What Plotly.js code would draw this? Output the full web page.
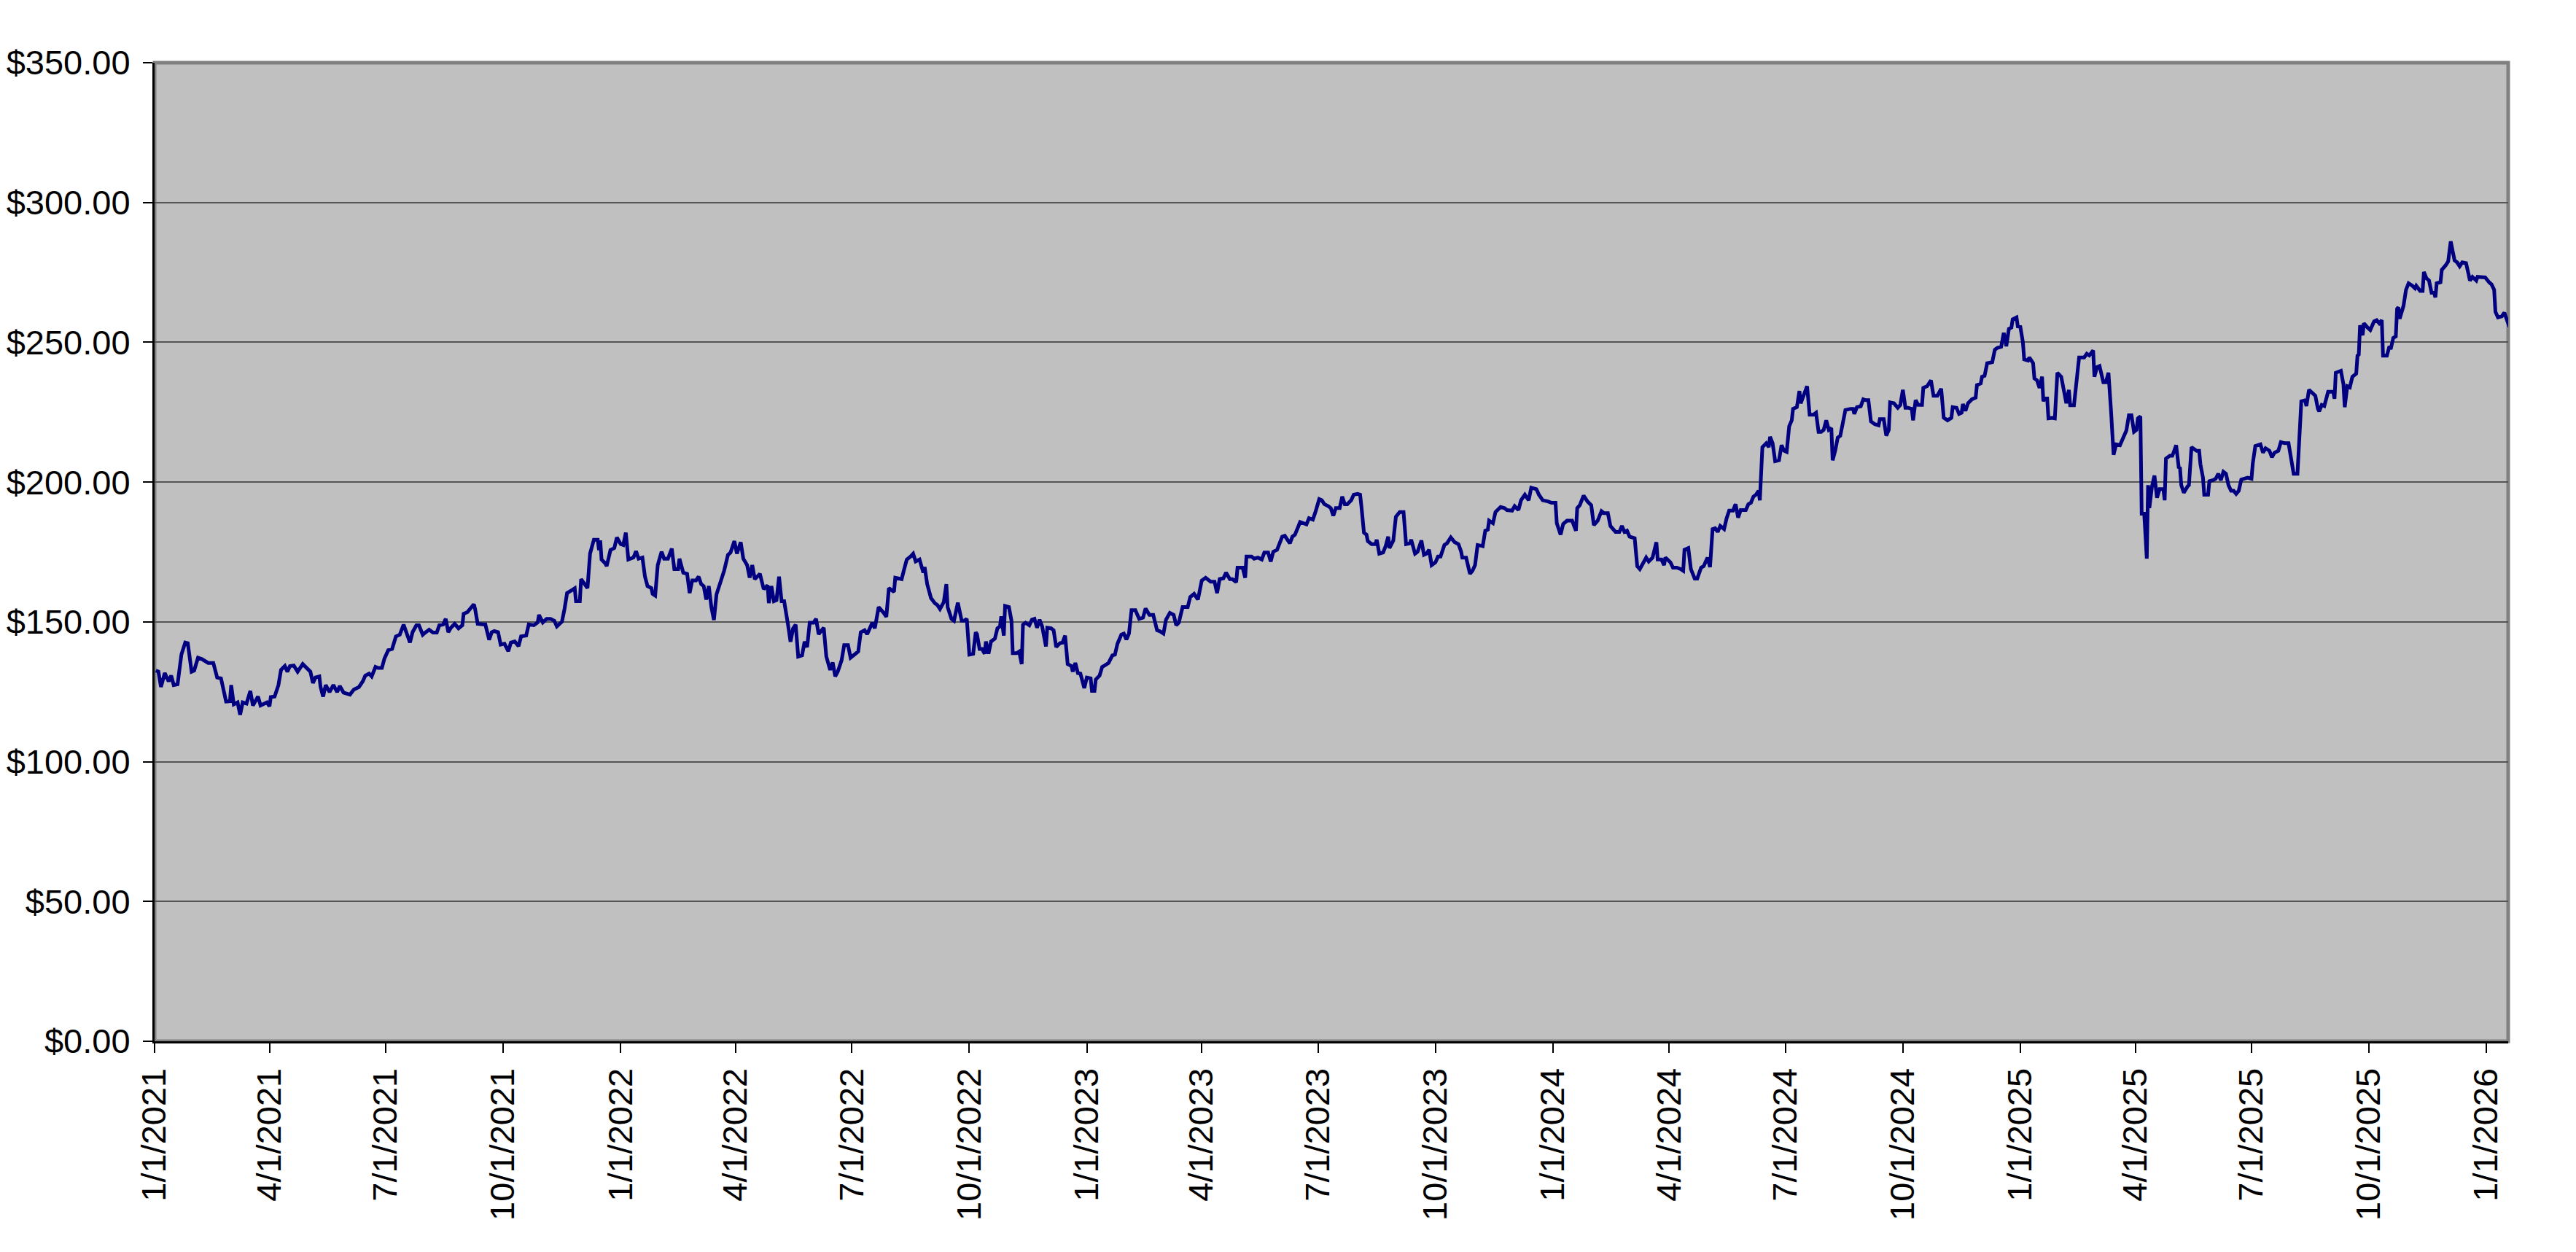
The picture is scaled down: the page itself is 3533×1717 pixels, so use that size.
<!DOCTYPE html>
<html>
<head>
<meta charset="utf-8">
<script src="https://cdn.plot.ly/plotly-3.0.1.min.js"></script>
<style>
  html, body { margin: 0; padding: 0; background: #fff; }
  #chart { width: 3533px; height: 1717px; }
</style>
</head>
<body>
<div id="chart"></div>
<script>
// closing prices: [day number, price]
// day number counts from 30 Dec 2020
const closesJan21 = [
  [3,132.6],[5,132.2],[7,126.7],[10,131.7],[13,128.7],[15,130.8],[17,127.4],[20,127.7],[23,138.3],[26,142.6],
  [28,142.4],[31,132.2],[33,132.6],[36,137.2],[39,136.7],[44,135.3],[48,135.3],[51,130.1],[54,129.8],[56,126.0],
  [58,121.5],[61,121.6],[62,127.4],[64,120.5],[67,121.2],[69,116.8],[71,121.2],[74,120.8],[77,125.3],[79,120.1],
  [83,123.3],[85,120.1],[90,121.2],[92,119.8],[93,123.1],[96,123.3],[99,127.4],[101,132.8],[104,134.2],[106,132.2],
  [108,134.2],[111,134.4],[114,132.2],[118,134.9],[121,133.5],[124,132.2],[126,128.1],[128,130.1],[131,130.5],[132,126.7],
  [134,123.3],[136,127.4],[139,124.9],[142,127.4],[145,124.9],[147,127.1],[150,124.7],[155,124.0],[158,125.8],[162,126.7],
  [165,128.7],[167,130.8],[170,131.5],[172,130.5],[175,133.9],[177,133.5],[180,133.5],[182,136.9],[185,139.9],[188,140.3],
  [191,144.8],[194,145.4],[197,149.0],[199,146.3],[202,142.6],[204,146.3],[207,148.8],[209,148.8],[212,145.4],[214,146.2],
  [217,147.2],[220,146.2],[223,146.2],[225,148.8],[228,149.1],[230,151.1],[232,146.3],[234,147.9],[237,149.3],[240,147.7],
  [243,148.8],[244,152.9],[247,153.5],[249,154.6],[252,156.3],[253,154.6],[255,149.3],[259,149.1],[261,149.1],[264,143.6],
  [266,146.3],[268,146.7],[271,146.3],[273,141.9],[276,142.2],[279,139.5],[281,142.6],[284,143.0],[287,141.3],[289,144.8],
  [293,145.1],[295,149.1],[299,148.8],[302,149.8],[303,152.5],[306,149.8],[309,151.1],[312,151.1],[315,150.4]
];

const closesNov21 = [
  [317,148.4],[321,150.1],[323,154.6],[325,160.3],[329,161.4],[331,162.0],[332,157.4],[335,157.4],[336,165.3],[338,164.2],
  [341,162.1],[343,174.4],[346,179.4],[349,179.4],[350,175.7],[351,179.1],[352,172.3],[355,170.9],[356,169.9],[359,175.7],
  [362,176.4],[364,180.2],[367,177.8],[369,177.5],[371,181.9],[373,172.3],[377,173.0],[379,175.3],[381,172.6],[384,173.0],
  [386,166.2],[388,162.8],[391,162.1],[392,160.0],[394,159.4],[396,170.3],[399,175.1],[401,172.6],[404,172.6],[407,176.2],
  [409,168.9],[412,168.9],[413,172.6],[416,167.6],[419,167.2],[421,160.3],[423,164.8],[426,164.8],[428,166.2],[430,163.5],
  [432,162.8],[434,158.0],[436,162.8],[438,155.3],[440,150.7],[442,159.8],[445,164.2],[448,168.3],[451,174.0],[453,174.8],
  [456,178.9],[458,174.4],[461,178.5],[463,172.6],[466,170.3],[468,165.8],[470,170.3],[472,165.3],[476,167.2],[479,161.7],
  [482,163.1],[483,156.7],[485,162.8],[487,157.4],[489,157.8],[491,166.2],[493,157.4],[495,157.4],[498,149.0],[500,142.9],
  [502,147.7],[504,149.0],[506,137.6],[509,138.0],[511,142.9],[513,141.0],[515,149.7],[518,149.7],[520,151.1],[522,145.6],
  [526,147.9],[528,137.6],[531,132.8],[533,135.5],[535,130.5],[537,132.2],[540,136.3],[542,141.7],[545,141.7],[547,137.2],
  [550,138.3],[553,139.4],[555,146.3],[558,147.0],[560,145.6],[564,149.7],[566,147.7],[569,155.3],[573,153.2],[575,151.8],
  [577,162.1],[581,160.7],[582,165.8],[587,165.3],[589,168.9],[591,172.3],[594,173.4],[596,174.4],[598,171.6],[601,172.3],
  [604,167.6],[605,169.6],[607,163.5],[610,158.5],[613,156.7],[615,156.0],[617,154.6],[620,157.1],[622,163.5],[623,155.3],
  [626,151.1],[628,150.4]
];

const closesSep22 = [
  [631,156.9],[634,150.4],[636,150.4],[638,151.1],[640,138.3],[643,138.6],[645,146.3],[646,145.6],[648,140.3],[650,140.3],
  [652,138.6],[653,143.0],[655,138.6],[657,143.0],[660,144.0],[662,147.7],[664,148.4],[665,152.0],[667,145.1],[668,155.7],
  [671,155.3],[673,150.4],[674,138.8],[677,138.8],[679,139.4],[681,134.9],[682,149.0],[684,149.7],[687,148.8],[689,150.8],
  [691,151.1],[693,147.9],[695,150.8],[697,148.4],[700,141.2],[701,147.9],[704,147.7],[706,147.0],[708,141.0],[711,142.4],
  [713,142.6],[715,145.1],[717,134.9],[720,134.2],[721,132.2],[723,135.3],[725,131.7],[727,131.5],[730,126.3],[732,130.1],
  [735,129.8],[736,125.3],[738,125.3],[739,129.4],[742,130.8],[744,133.9],[746,134.4],[749,135.3],[752,138.0],[754,138.3],
  [756,142.2],[759,145.4],[761,145.8],[763,143.7],[765,145.8],[767,154.2],[770,154.2],[773,151.1],[776,151.5],[778,154.8],
  [781,152.5],[784,152.5],[787,147.0],[789,146.7],[792,145.8],[794,150.8],[797,153.2],[800,152.5],[802,148.8],[804,149.7],
  [807,155.3],[811,155.3],[813,158.9],[816,160.0],[819,158.0],[822,164.8],[825,165.8],[829,164.4],[832,164.4],[834,160.3],
  [836,165.3],[839,165.6],[841,167.6],[844,165.3],[846,165.3],[849,164.2],[850,169.4],[854,169.4],[856,165.8],[857,173.4],
  [861,173.4],[863,172.6],[866,173.0],[869,172.3],[871,174.8],[874,174.8],[876,171.6],[878,175.1],[881,175.8],[885,180.5],
  [887,180.8],[891,178.1],[893,180.5],[895,181.2],[899,185.7],[902,185.3],[904,184.9],[906,187.1],[909,186.6],[911,189.3],
  [914,193.9],[916,193.5],[918,192.1],[921,191.4],[923,190.7],[925,188.0],[927,190.7],[930,190.7],[932,194.8],[934,192.1],
  [936,192.1],[939,193.5],[941,195.5],[944,195.8],[946,195.5],[947,191.4],[949,181.9]
];

const closesAug23 = [
  [951,181.2],[952,178.9],[955,177.8],[958,177.8],[959,179.4],[961,174.4],[964,174.8],[966,177.1],[968,180.5],[969,176.4],
  [972,179.1],[974,187.6],[977,189.3],[980,189.3],[982,177.8],[985,178.1],[986,179.4],[989,174.4],[991,175.1],[994,179.1],
  [996,174.0],[998,174.4],[1000,175.8],[1002,170.3],[1005,171.3],[1007,173.4],[1009,173.4],[1012,177.5],[1014,178.1],[1017,180.2],
  [1020,178.5],[1023,177.8],[1025,175.3],[1026,173.0],[1029,173.0],[1032,167.2],[1034,168.3],[1036,170.3],[1038,177.5],[1042,177.1],
  [1044,182.6],[1046,183.0],[1047,186.2],[1050,185.3],[1052,189.3],[1056,191.1],[1059,190.7],[1061,190.0],[1065,189.8],[1067,191.4],
  [1070,190.0],[1072,193.5],[1075,195.5],[1078,193.5],[1080,198.0],[1084,197.5],[1086,195.5],[1089,193.5],[1093,193.1],[1096,192.6],
  [1099,192.6],[1100,185.3],[1103,181.2],[1105,185.0],[1108,186.2],[1112,186.2],[1115,182.6],[1116,190.7],[1118,191.7],[1121,195.2],
  [1124,193.1],[1127,191.7],[1129,184.6],[1132,186.2],[1135,189.6],[1137,188.9],[1140,188.9],[1142,184.3],[1146,182.2],[1149,182.2],
  [1151,184.3],[1153,182.2],[1155,182.6],[1157,180.5],[1161,179.9],[1163,169.9],[1165,168.9],[1168,171.3],[1170,173.0],[1172,171.6],
  [1175,173.0],[1178,178.5],[1179,172.3],[1182,172.3],[1184,170.3],[1185,173.0],[1189,171.3],[1191,169.4],[1194,169.4],[1197,168.9],
  [1199,168.3],[1200,175.8],[1203,176.4],[1205,168.9],[1208,165.5],[1210,165.5],[1213,169.4],[1215,169.9],[1218,173.0],[1220,169.6],
  [1222,183.2],[1224,183.5],[1226,182.2],[1228,184.3],[1231,183.2],[1233,187.1],[1235,189.8],[1238,189.8],[1240,192.1],[1242,187.3],
  [1244,190.0],[1248,190.0],[1250,192.1],[1252,192.6],[1254,194.8],[1256,195.5],[1258,196.9],[1259,193.5],[1261,212.5]
];

const closesJun24 = [
  [1264,213.9],[1266,212.5],[1267,216.2],[1269,213.9],[1271,207.5],[1274,207.8],[1276,213.2],[1278,211.2],[1280,210.8],[1282,220.0],
  [1284,222.1],[1285,226.2],[1288,226.8],[1290,232.6],[1291,228.2],[1293,230.9],[1296,234.3],[1298,224.1],[1301,224.1],[1303,224.8],
  [1305,218.0],[1307,218.0],[1309,218.7],[1311,222.1],[1313,218.7],[1315,219.3],[1316,207.8],[1318,211.2],[1320,215.9],[1322,216.6],
  [1324,221.4],[1326,225.8],[1330,226.2],[1332,226.2],[1333,224.4],[1335,226.8],[1338,227.1],[1340,229.6],[1342,229.3],[1344,229.3],
  [1346,221.7],[1349,220.7],[1352,220.3],[1353,222.5],[1356,222.5],[1358,216.6],[1360,218.7],[1361,228.5],[1364,228.2],[1367,226.6],
  [1369,227.6],[1371,233.0],[1373,226.6],[1375,226.6],[1378,226.2],[1379,222.1],[1381,229.3],[1383,227.6],[1386,227.6],[1387,233.7],
  [1390,234.3],[1393,236.4],[1395,230.9],[1398,230.9],[1401,233.4],[1403,223.0],[1406,222.1],[1409,223.0],[1410,226.8],[1413,226.6],
  [1415,224.4],[1417,224.8],[1418,227.9],[1420,225.5],[1422,228.2],[1425,229.6],[1428,230.2],[1429,234.7],[1432,235.3],[1433,237.7],
  [1435,238.0],[1437,242.5],[1441,242.9],[1443,247.3],[1445,248.0],[1448,248.4],[1450,253.4],[1452,248.6],[1454,254.8],[1456,255.3],
  [1457,258.2],[1460,258.9],[1461,255.7],[1463,255.5],[1465,250.0],[1466,243.9],[1469,243.5],[1470,244.6],[1473,242.5],[1474,237.1],
  [1476,236.4],[1478,233.7],[1480,237.7],[1481,228.9],[1482,229.9],[1484,229.9],[1485,222.8],[1488,223.0],[1490,222.8],[1492,239.1],
  [1495,237.7],[1497,233.0],[1499,228.2],[1501,233.0],[1502,227.5],[1505,227.5],[1507,237.7],[1509,244.6],[1513,244.6],[1515,245.9],
  [1517,245.3],[1520,247.1],[1521,237.7],[1523,241.1],[1525,241.5],[1528,235.7],[1530,235.7],[1532,239.1],[1534,225.5],[1536,209.8],
  [1538,213.5],[1541,213.2],[1543,215.3],[1546,218.4],[1548,223.9],[1550,223.9],[1552,218.0],[1554,218.7],[1555,222.8],[1557,223.5],
  [1558,188.7],[1560,188.7],[1562,172.6],[1563,198.9],[1564,190.7],[1566,198.2],[1568,202.3],[1570,194.4],[1572,197.5],[1575,197.5],
  [1576,193.5]
];

const closesApr25 = [
  [1577,208.4],[1580,209.4],[1582,209.4],[1584,211.9],[1585,213.2],[1587,205.3],[1588,205.0],[1589,198.9],[1591,196.2],[1594,198.5],
  [1595,198.9],[1597,212.5],[1599,211.9],[1601,211.2],[1603,211.2],[1604,206.4],[1606,201.6],[1607,195.5],[1610,195.5],[1611,200.3],
  [1614,200.7],[1616,201.2],[1618,203.0],[1620,200.7],[1622,203.7],[1624,203.0],[1626,198.9],[1628,196.9],[1630,196.9],[1632,195.8],
  [1634,196.9],[1636,200.9],[1638,201.2],[1641,201.6],[1644,201.2],[1645,206.7],[1647,212.9],[1651,213.5],[1653,210.5],[1655,212.1],
  [1658,211.2],[1660,208.9],[1662,210.5],[1665,211.2],[1667,214.3],[1670,213.9],[1673,213.9],[1675,208.0],[1677,203.0],[1680,203.0],
  [1681,214.3],[1683,228.9],[1686,229.3],[1687,227.2],[1689,233.0],[1692,231.6],[1694,230.9],[1696,226.2],[1697,225.3],[1699,227.6],
  [1701,227.2],[1704,232.3],[1708,232.3],[1709,229.8],[1710,239.1],[1714,239.8],[1716,235.0],[1717,226.8],[1719,234.3],[1721,233.9],
  [1723,237.7],[1726,238.8],[1727,245.2],[1728,245.6],[1729,256.1],[1731,252.5],[1732,256.8],[1735,255.2],[1737,254.4],[1740,257.5],
  [1742,257.9],[1744,256.8],[1746,257.9],[1747,245.2],[1750,245.2],[1752,248.6],[1753,247.5],[1755,251.6],[1757,252.1],[1758,262.0],
  [1759,262.5],[1760,258.4],[1762,262.3],[1763,263.0],[1765,268.8],[1767,271.1],[1770,270.2],[1772,269.3],[1773,270.2],[1776,268.4],
  [1778,268.4],[1779,275.2],[1781,272.9],[1783,272.1],[1785,267.7],[1787,267.7],[1788,266.1],[1789,271.1],[1792,271.5],[1793,275.9],
  [1796,277.5],[1798,278.9],[1800,286.1],[1803,279.3],[1805,278.6],[1807,277.2],[1809,278.6],[1812,278.3],[1814,274.3],[1815,272.1],
  [1817,273.4],[1820,272.1],[1821,273.4],[1823,273.4],[1827,273.2],[1830,271.5],[1832,270.7],[1834,268.8],[1835,260.9],[1837,258.9],
  [1840,259.3],[1842,260.6],[1844,258.2],[1846,255.5]
];

const yTicks = [0, 50, 100, 150, 200, 250, 300, 350];
const yTickText = yTicks.map(v => '$' + v.toFixed(2));
const xStart = '2021-01-01';
const xEnd = '2026-01-18';

const dayZero = Date.UTC(2020, 11, 30);
const toDate = d => new Date(dayZero + d * 86400000).toISOString().slice(0, 10);

const allCloses = [].concat(closesJan21, closesNov21, closesSep22, closesAug23, closesJun24, closesApr25);

const trace = {
  x: allCloses.map(p => toDate(p[0])),
  y: allCloses.map(p => p[1]),
  type: 'scatter',
  mode: 'lines',
  line: { color: '#000080', width: 5 },
  hoverinfo: 'x+y'
};

const tickFont = { family: 'Liberation Sans, Arial, sans-serif', size: 47, color: '#000' };

const layout = {
  width: 3533,
  height: 1717,
  margin: { l: 212, r: 93, t: 86, b: 289, pad: 0 },
  paper_bgcolor: '#ffffff',
  plot_bgcolor: '#c0c0c0',
  showlegend: false,
  font: tickFont,
  xaxis: {
    type: 'date',
    range: [xStart, xEnd],
    tick0: xStart,
    dtick: 'M3',
    tickformat: '%-m/%-d/%Y',
    tickangle: -90,
    ticks: 'outside',
    ticklen: 13,
    tickwidth: 2,
    tickcolor: '#000',
    ticklabelstandoff: 2,
    tickfont: tickFont,
    showgrid: false,
    zeroline: false,
    showline: true,
    linecolor: '#000',
    linewidth: 3
  },
  yaxis: {
    range: [0, 350],
    tickmode: 'array',
    tickvals: yTicks,
    ticktext: yTickText,
    ticks: 'outside',
    ticklen: 13,
    tickwidth: 2,
    tickcolor: '#000',
    ticklabelstandoff: 8,
    tickfont: tickFont,
    showgrid: true,
    gridcolor: '#555555',
    gridwidth: 2,
    zeroline: false,
    showline: true,
    linecolor: '#000',
    linewidth: 3
  },
  shapes: [{
    type: 'rect', xref: 'paper', yref: 'paper',
    x0: 0, x1: 1, y0: 0, y1: 1,
    line: { color: '#808080', width: 5 },
    layer: 'below'
  }]
};

Plotly.newPlot('chart', [trace], layout, { displayModeBar: false, staticPlot: true });
</script>
</body>
</html>
